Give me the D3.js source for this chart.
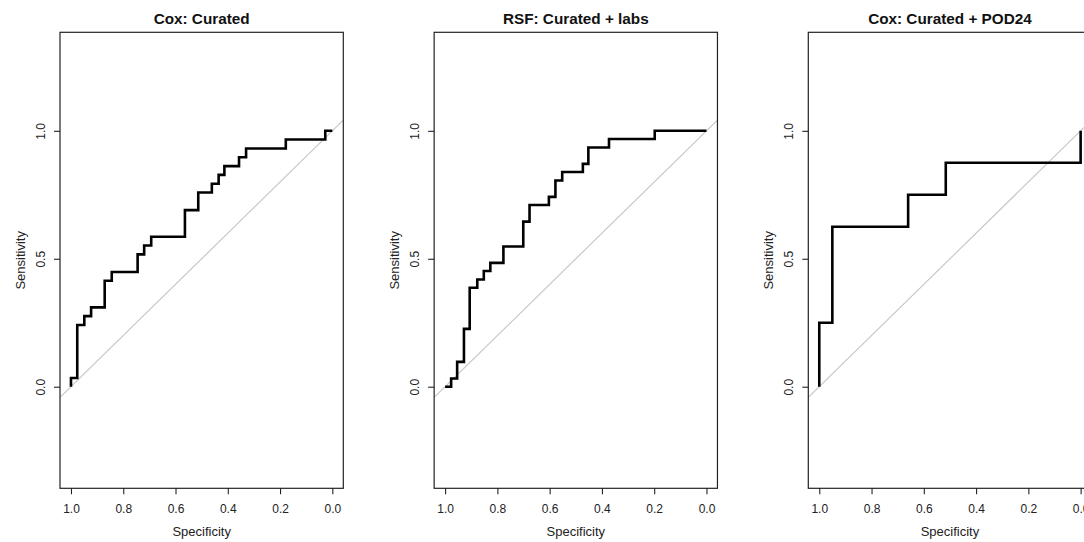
<!DOCTYPE html>
<html>
<head>
<meta charset="utf-8">
<script src="https://cdn.jsdelivr.net/npm/d3@7"></script>
<style>
  html, body { margin: 0; padding: 0; background: #fff; }
  svg { display: block; font-family: "Liberation Sans", Arial, sans-serif; }
</style>
</head>
<body>
<svg id="chart" width="1084" height="542"></svg>
<script>
// ---- data ----
const panelTitles = ["Cox: Curated", "RSF: Curated + labs", "Cox: Curated + POD24"];

// ROC step corners (specificity, sensitivity): curve rises at each specificity, then runs flat to the next
const coxCuratedSpec = [1.0, 1.0, 0.976, 0.949, 0.923, 0.871, 0.844, 0.745, 0.720, 0.693, 0.564, 0.513, 0.461, 0.435, 0.413, 0.357, 0.330, 0.178, 0.027, 0.0];
const coxCuratedSens = [0.0, 0.034, 0.241, 0.276, 0.310, 0.414, 0.448, 0.517, 0.552, 0.586, 0.690, 0.759, 0.793, 0.828, 0.862, 0.897, 0.931, 0.966, 1.0, 1.0];

const rsfLabsSpec = [1.0, 0.977, 0.954, 0.928, 0.906, 0.877, 0.852, 0.827, 0.777, 0.701, 0.677, 0.603, 0.578, 0.552, 0.473, 0.452, 0.373, 0.198, 0.0];
const rsfLabsSens = [0.0, 0.032, 0.097, 0.226, 0.387, 0.419, 0.452, 0.484, 0.548, 0.645, 0.710, 0.742, 0.806, 0.839, 0.871, 0.935, 0.968, 1.0, 1.0];

const coxPod24Spec = [1.0, 1.0, 0.95, 0.66, 0.516, 0.0];
const coxPod24Sens = [0.0, 0.25, 0.625, 0.75, 0.875, 1.0];

const xTickValues = [1.0, 0.8, 0.6, 0.4, 0.2, 0.0];
const yTickValues = [0.0, 0.5, 1.0];
const xLabel = "Specificity";
const yLabel = "Sensitivity";

const series = [
  { spec: coxCuratedSpec, sens: coxCuratedSens },
  { spec: rsfLabsSpec, sens: rsfLabsSens },
  { spec: coxPod24Spec, sens: coxPod24Sens }
];

// ---- layout ----
const svg = d3.select("#chart");
const panelStep = 374.15;
const boxLeft = 60, boxWidth = 283.3, boxTop = 32.3, boxBottom = 488.3;
const xDomain = [1.042, -0.042];
const yDomain = [-0.397, 1.385];

panelTitles.forEach((title, i) => {
  const x0 = boxLeft + i * panelStep;
  const x = d3.scaleLinear().domain(xDomain).range([x0, x0 + boxWidth]);
  const y = d3.scaleLinear().domain(yDomain).range([boxBottom, boxTop]);
  const g = svg.append("g");

  // diagonal reference line
  g.append("line")
    .attr("x1", x(xDomain[0])).attr("y1", y(1 - xDomain[0]))
    .attr("x2", x(xDomain[1])).attr("y2", y(1 - xDomain[1]))
    .attr("stroke", "#c4c4c4").attr("stroke-width", 1.1);

  // ROC curve
  const pts = series[i].spec.map((s, k) => [s, series[i].sens[k]]);
  const line = d3.line().x(d => x(d[0])).y(d => y(d[1])).curve(d3.curveStepAfter);
  g.append("path").datum(pts)
    .attr("d", line)
    .attr("fill", "none").attr("stroke", "#000")
    .attr("stroke-width", 2.6).attr("stroke-linejoin", "miter").attr("stroke-linecap", "butt");

  // box
  g.append("rect")
    .attr("x", x0).attr("y", boxTop)
    .attr("width", boxWidth).attr("height", boxBottom - boxTop)
    .attr("fill", "none").attr("stroke", "#222").attr("stroke-width", 1.2);

  // x axis
  const xAxis = d3.axisBottom(x).tickValues(xTickValues).tickFormat(d3.format(".1f"))
    .tickSize(6).tickPadding(10);
  const gx = g.append("g").attr("transform", `translate(0,${boxBottom})`).call(xAxis);
  gx.select(".domain").remove();
  gx.selectAll(".tick line").attr("stroke", "#222").attr("stroke-width", 1.1);
  gx.selectAll(".tick text").attr("fill", "#222").style("font-size", "12px")
    .style("font-family", "'Liberation Sans', Arial, sans-serif");

  // y axis
  const yAxis = d3.axisLeft(y).tickValues(yTickValues).tickFormat(d3.format(".1f"))
    .tickSize(6).tickPadding(0);
  const gy = g.append("g").attr("transform", `translate(${x0},0)`).call(yAxis);
  gy.select(".domain").remove();
  gy.selectAll(".tick line").attr("stroke", "#222").attr("stroke-width", 1.1);
  gy.selectAll(".tick text")
    .attr("x", null).attr("dy", null)
    .attr("transform", "translate(-15,0) rotate(-90)")
    .attr("text-anchor", "middle")
    .attr("fill", "#222").style("font-size", "12px")
    .style("font-family", "'Liberation Sans', Arial, sans-serif");

  // title
  g.append("text")
    .attr("x", x0 + boxWidth / 2).attr("y", 23.5)
    .attr("text-anchor", "middle")
    .style("font-size", "15.3px").style("font-weight", "bold")
    .attr("fill", "#111")
    .text(title);

  // axis labels
  g.append("text")
    .attr("x", x0 + boxWidth / 2).attr("y", 535.5)
    .attr("text-anchor", "middle")
    .style("font-size", "13px").attr("fill", "#222")
    .text(xLabel);
  g.append("text")
    .attr("transform", `translate(${x0 - 35},${(boxTop + boxBottom) / 2}) rotate(-90)`)
    .attr("text-anchor", "middle")
    .style("font-size", "13px").attr("fill", "#222")
    .text(yLabel);
});
</script>
</body>
</html>
